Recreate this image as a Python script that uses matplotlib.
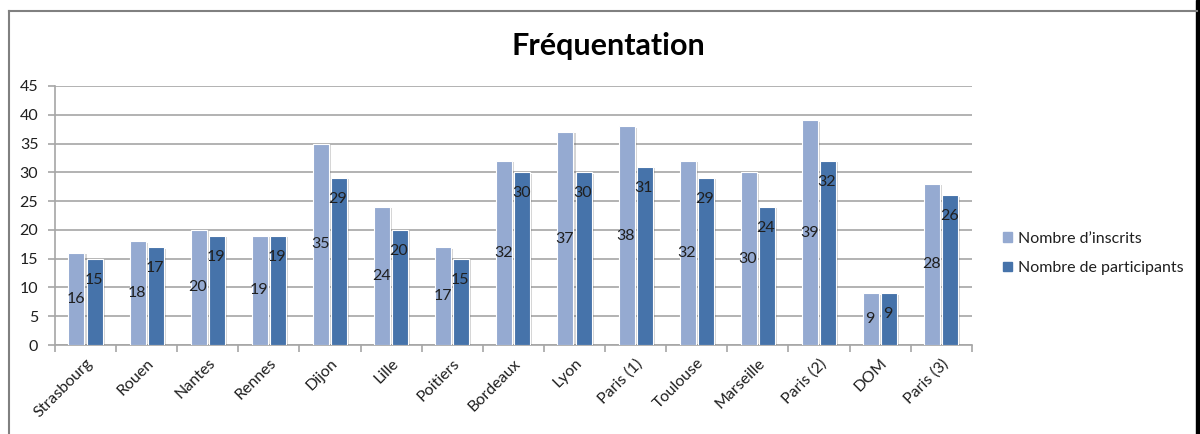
import numpy as np
import matplotlib
matplotlib.use("Agg")
import matplotlib.pyplot as plt
import matplotlib.patches as mpatches
import matplotlib.patheffects as pe
from matplotlib.lines import Line2D
from matplotlib.transforms import offset_copy

plt.rcParams["font.family"] = ["Lato", "DejaVu Sans"]

SITES = ["Strasbourg", "Rouen", "Nantes", "Rennes", "Dijon", "Lille", "Poitiers",
         "Bordeaux", "Lyon", "Paris (1)", "Toulouse", "Marseille", "Paris (2)",
         "DOM", "Paris (3)"]
INSCRITS = [16, 18, 20, 19, 35, 24, 17, 32, 37, 38, 32, 30, 39, 9, 28]
PARTICIPANTS = [15, 17, 19, 19, 29, 20, 15, 30, 30, 31, 29, 24, 32, 9, 26]

C_INSCRITS = "#95AAD1"
C_PARTICIPANTS = "#4673AA"
GRID = "#A6A6A6"
TXT = "#1F1F1F"

fig = plt.figure(figsize=(12, 4.34), dpi=100)
ax = fig.add_axes([0.0458, 0.205, 0.764, 0.597])

x = np.arange(len(SITES))
w = 0.262
shadow = [pe.SimplePatchShadow(offset=(1.5, -1), alpha=0.25, shadow_rgbFace="#555555"),
          pe.Normal()]
ax.bar(x - 0.148, INSCRITS, w, color=C_INSCRITS, edgecolor="white",
       linewidth=0.8, zorder=3, path_effects=shadow)
ax.bar(x + 0.148, PARTICIPANTS, w, color=C_PARTICIPANTS, edgecolor="white",
       linewidth=0.8, zorder=3, path_effects=shadow)

# value labels: inscrits centred in the bar, participants just inside the top
for xi, v in zip(x, INSCRITS):
    ax.text(xi - 0.16, v / 2, str(v), ha="center", va="center",
            fontsize=11.5, color=TXT, zorder=5)
tr = offset_copy(ax.transData, fig=fig, x=0, y=-21, units="dots")
for xi, v in zip(x, PARTICIPANTS):
    ax.text(xi + 0.13, v, str(v), ha="center", va="center",
            fontsize=11.5, color=TXT, zorder=5, transform=tr)

ax.set_xlim(-0.5, len(SITES) - 0.5)
ax.set_ylim(0, 45)
ax.set_yticks(np.arange(0, 46, 5))
ax.yaxis.grid(True, color=GRID, linewidth=1.2, zorder=0)
ax.set_axisbelow(True)

ax.set_xticks(x)
ax.set_xticklabels(SITES, rotation=45, ha="right", va="top",
                   rotation_mode="anchor", fontsize=11.5, color=TXT)
ax.tick_params(axis="x", which="major", length=0, pad=8)
ax.set_xticks(np.arange(-0.5, len(SITES)), minor=True)
ax.tick_params(axis="x", which="minor", length=5, color=GRID, width=1.2)
ax.tick_params(axis="y", length=5, color=GRID, width=1.2, labelsize=11.5,
               labelcolor=TXT, pad=7)

for s in ("top", "right"):
    ax.spines[s].set_visible(False)
for s in ("left", "bottom"):
    ax.spines[s].set_color(GRID)
    ax.spines[s].set_linewidth(1.2)

fig.text(0.507, 0.895, "Fréquentation", ha="center", va="center",
         fontsize=22, fontweight="bold", color="black")

handles = [mpatches.Patch(color=C_INSCRITS, label="Nombre d\u2019inscrits"),
           mpatches.Patch(color=C_PARTICIPANTS, label="Nombre de participants")]
fig.legend(handles=handles, loc="center left", bbox_to_anchor=(0.824, 0.416),
           frameon=False, fontsize=11.5, handlelength=0.55, handleheight=0.55,
           handletextpad=0.35, labelspacing=0.95, labelcolor=TXT)

# outer frame
fig.add_artist(Line2D([9 / 1200, 1197 / 1200], [1 - 11 / 434, 1 - 11 / 434],
                      color="#808080", lw=1.5, transform=fig.transFigure))
fig.add_artist(Line2D([9 / 1200, 9 / 1200], [0, 1 - 11 / 434],
                      color="#808080", lw=1.5, transform=fig.transFigure))
fig.add_artist(mpatches.Rectangle((1196 / 1200, 0), 4 / 1200, 1,
                                  color="black", transform=fig.transFigure))

fig.savefig("out.png", dpi=100)
